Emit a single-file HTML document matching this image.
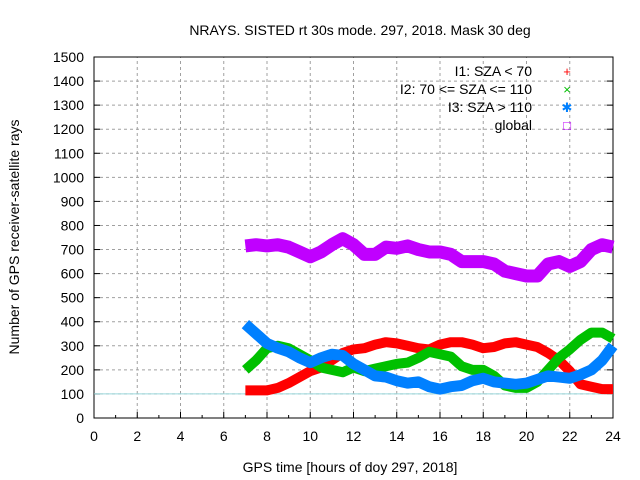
<!DOCTYPE html>
<html><head><meta charset="utf-8"><style>
body{margin:0;background:#fff}
svg{display:block;font-family:"Liberation Sans",sans-serif;font-size:14px}
</style></head><body>
<svg id="chart" width="640" height="480" viewBox="0 0 640 480">
<text x="360" y="35" text-anchor="middle">NRAYS. SISTED rt 30s mode. 297, 2018. Mask 30 deg</text>
<g id="grid"></g>
<g id="axes"></g>
<g id="series"></g>
<text x="350" y="472" text-anchor="middle">GPS time [hours of doy 297, 2018]</text>
<text transform="translate(19,237) rotate(-90)" text-anchor="middle">Number of GPS receiver-satellite rays</text>
<g id="legend"></g>
</svg>
<script>
const hours=[7,7.5,8,8.5,9,9.5,10,10.5,11,11.5,12,12.5,13,13.5,14,14.5,15,15.5,16,16.5,17,17.5,18,18.5,19,19.5,20,20.5,21,21.5,22,22.5,23,23.5,24];
const seriesI1=[115,115,115,125,145,170,195,210,240,270,285,290,305,315,310,300,290,285,305,315,315,305,290,295,310,315,305,295,270,240,195,140,130,120,120];
const seriesI2=[200,240,290,300,290,265,240,210,200,190,210,195,205,215,225,230,250,275,265,255,215,200,200,175,135,125,125,150,200,250,285,325,355,355,330];
const seriesI3=[390,350,310,290,275,250,230,250,265,260,225,200,175,170,155,145,150,130,120,130,135,155,165,150,145,140,145,160,175,170,165,180,200,240,300];
const seriesGlobal=[715,720,715,720,710,690,670,690,720,745,720,680,680,710,705,715,700,690,690,680,650,650,650,640,610,600,590,590,640,650,630,650,700,720,710];
const xTicks=[0,2,4,6,8,10,12,14,16,18,20,22,24];
const yTicks=[0,100,200,300,400,500,600,700,800,900,1000,1100,1200,1300,1400,1500];
const legendLabels=["I1: SZA < 70","I2: 70 <= SZA <= 110","I3: SZA > 110","global"];
const refLine=100;

const X0=94,X1=613,Y0=418,Y1=57;
const sx=v=>X0+(v-0)/(24-0)*(X1-X0);
const sy=v=>Y0-(v-0)/(1500-0)*(Y0-Y1);
const NS="http://www.w3.org/2000/svg";
function mk(tag,attrs,parent){const e=document.createElementNS(NS,tag);for(const k in attrs)e.setAttribute(k,attrs[k]);parent.appendChild(e);return e;}
const grid=document.getElementById('grid'),axes=document.getElementById('axes'),ser=document.getElementById('series'),leg=document.getElementById('legend');

xTicks.forEach(t=>{
  if(t>0&&t<24){const l=mk('line',{x1:sx(t),x2:sx(t),y1:Y0,y2:Y1,stroke:'#a0a0a0','stroke-dasharray':'3,3'},grid);
  }
  const tk=mk('line',{x1:sx(t),x2:sx(t),y1:Y0,y2:Y0-6,stroke:'#000'},axes);
  
  const tx=mk('text',{x:sx(t),y:Y0+23,'text-anchor':'middle'},axes);tx.textContent=t;
  
});
for(let t=1;t<24;t+=2){const m=mk('line',{x1:sx(t),x2:sx(t),y1:Y0,y2:Y0-3,stroke:'#000'},axes);
  }
yTicks.forEach(t=>{
  if(t>0&&t<1500){const l=mk('line',{x1:X0,x2:X1,y1:sy(t),y2:sy(t),stroke:'#a0a0a0','stroke-dasharray':'3,3'},grid);
  }
  const tk=mk('line',{x1:X0,x2:X0+6,y1:sy(t),y2:sy(t),stroke:'#000'},axes);
  
  const tk2=mk('line',{x1:X1,x2:X1-6,y1:sy(t),y2:sy(t),stroke:'#000'},axes);
  
  const tx=mk('text',{x:X0-10,y:sy(t)+5,'text-anchor':'end'},axes);tx.textContent=t;
  
});
const fr=mk('rect',{x:X0,y:Y1,width:X1-X0,height:Y0-Y1,fill:'none',stroke:'#000'},axes);

const rl=mk('line',{x1:X0,x2:X1,y1:sy(refLine),y2:sy(refLine),stroke:'#9ad8dc','stroke-width':1},ser);


const cols=['#ff0000','#00c000','#0080ff','#c000ff'];
const widths=[10,10,11,13];
const data=[seriesI1,seriesI2,seriesI3,seriesGlobal];
const names=['series-i1','series-i2','series-i3','series-global'];
data.forEach((arr,i)=>{
  const pts=arr.map((v,j)=>sx(hours[j])+','+sy(v)).join(' ');
  const p=mk('polyline',{points:pts,fill:'none',stroke:cols[i],'stroke-width':widths[i],'stroke-linejoin':'round','stroke-linecap':'butt'},ser);
  
});
const glyphs=['+','×','✱','□'];
legendLabels.forEach((lab,i)=>{
  const y=76+i*18;
  const t=mk('text',{x:532,y:y,'text-anchor':'end'},leg);t.textContent=lab;
  
  const g=mk('text',{x:567,y:y,'text-anchor':'middle',fill:cols[i],'font-size':'13'},leg);g.textContent=glyphs[i];
  
});
</script>
</body></html>
